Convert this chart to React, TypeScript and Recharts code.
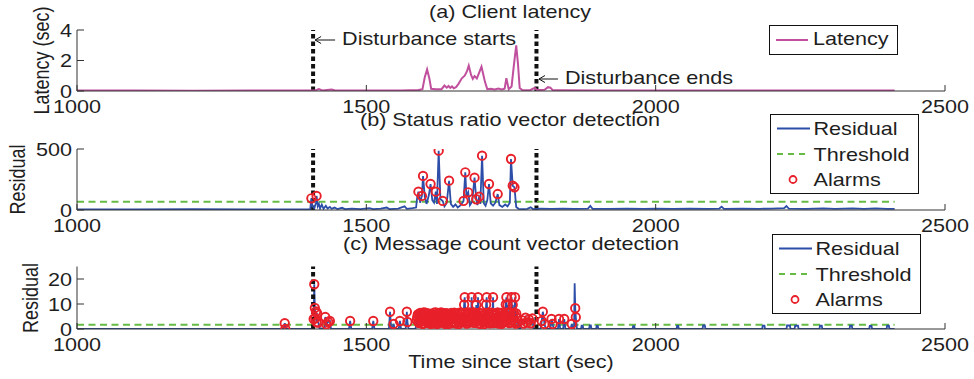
import React from 'react';
import { ComposedChart, Line, XAxis, YAxis, ReferenceLine, Legend } from 'recharts';

type Pt = [number, number];

// ---------- data ----------
const xTicks = [1000, 1500, 2000, 2500];
const latencyTicks = [0, 2, 4];
const statusTicks = [0, 500];
const messageTicks = [0, 10, 20];
const disturbanceStart = 1408;
const disturbanceEnd = 1794;
const statusThreshold = 68;
const messageThreshold = 1.7;
const seriesStart = 1000;
const seriesEnd = 2413;

const latencyPts: Pt[] = [
  [1000, 0.03], [1100, 0.03], [1200, 0.02], [1300, 0.03], [1400, 0.03], [1412, 0.04], [1418, 0.12],
  [1424, 0.04], [1440, 0.1], [1446, 0.03], [1500, 0.03], [1560, 0.04], [1590, 0.06], [1597, 0.12],
  [1601, 0.9], [1605, 1.42], [1609, 0.8], [1612, 0.15], [1620, 0.12], [1630, 0.12], [1635, 0.36],
  [1639, 0.22], [1642, 0.33], [1645, 0.2], [1648, 0.3], [1651, 0.18], [1655, 0.25], [1659, 0.45],
  [1665, 0.83], [1670, 1.0], [1674, 1.3], [1677, 1.66], [1681, 1.05], [1684, 0.8], [1687, 0.98],
  [1691, 0.82], [1695, 1.2], [1699, 1.6], [1702, 1.1], [1705, 0.6], [1709, 0.12], [1715, 0.15],
  [1722, 0.1], [1728, 0.16], [1734, 0.1], [1739, 0.15], [1742, 0.84], [1746, 0.12], [1751, 0.3],
  [1755, 1.7], [1759, 3.0], [1762, 1.8], [1765, 0.2], [1770, 0.05], [1783, 0.05], [1788, 0.15],
  [1791, 0.2], [1795, 0.06], [1808, 0.08], [1814, 0.25], [1818, 0.22], [1822, 0.06], [1840, 0.05],
  [1900, 0.04], [2000, 0.03], [2100, 0.03], [2200, 0.03], [2300, 0.03], [2413, 0.03],
];

const statusResidualPts: Pt[] = [
  [1000, 5], [1100, 5], [1200, 6], [1300, 5], [1403, 6], [1405, 96], [1407, 30], [1410, 15], [1413, 60],
  [1414, 115], [1416, 30], [1418, 50], [1420, 12], [1423, 45], [1426, 10], [1430, 35], [1433, 12],
  [1437, 25], [1440, 10], [1445, 20], [1450, 8], [1458, 18], [1463, 8], [1475, 12], [1490, 8],
  [1505, 15], [1512, 8], [1525, 12], [1535, 20], [1540, 8], [1555, 12], [1566, 30], [1570, 10],
  [1580, 15], [1586, 20], [1588, 110], [1590, 150], [1593, 60], [1596, 115], [1598, 279], [1601, 110],
  [1604, 50], [1608, 120], [1611, 213], [1614, 80], [1617, 60], [1620, 150], [1622, 50], [1625, 486],
  [1628, 90], [1632, 74], [1635, 30], [1639, 60], [1643, 240], [1646, 50], [1650, 25], [1654, 45],
  [1658, 20], [1662, 35], [1666, 60], [1668, 74], [1671, 309], [1673, 110], [1676, 145], [1679, 40],
  [1683, 70], [1687, 265], [1690, 88], [1692, 40], [1695, 109], [1697, 50], [1700, 445], [1703, 55],
  [1706, 35], [1709, 80], [1712, 213], [1715, 55], [1719, 35], [1723, 60], [1727, 131], [1730, 40],
  [1735, 25], [1740, 45], [1744, 30], [1748, 60], [1750, 418], [1753, 199], [1756, 186], [1759, 25],
  [1763, 10], [1770, 8], [1778, 10], [1784, 22], [1788, 8], [1800, 12], [1820, 10], [1840, 12],
  [1860, 9], [1883, 12], [1887, 33], [1891, 10], [1920, 10], [1950, 12], [1980, 9], [2000, 11],
  [2030, 10], [2060, 12], [2090, 10], [2110, 12], [2114, 28], [2118, 10], [2150, 12], [2180, 10],
  [2200, 12], [2222, 15], [2226, 33], [2230, 12], [2260, 10], [2290, 14], [2310, 10], [2340, 14],
  [2360, 10], [2380, 13], [2400, 9], [2413, 10],
];

const statusAlarmPts: Pt[] = [
  [1405, 96], [1414, 115], [1590, 150], [1596, 115], [1598, 279], [1611, 213], [1620, 150], [1625, 486],
  [1632, 74], [1643, 240], [1668, 74], [1671, 309], [1676, 145], [1687, 265], [1690, 88], [1695, 109],
  [1700, 445], [1712, 213], [1727, 131], [1750, 418], [1753, 199], [1756, 186],
];

const messageResidualBefore: Pt[] = [
  [1000, 0], [1357, 0], [1359, 2.3], [1361, 0], [1407, 0], [1409, 4.0], [1410, 17.9], [1411, 8.4],
  [1412, 4.3], [1413, 7.0], [1414, 2.7], [1415, 6.3], [1417, 2.6], [1419, 0.3], [1428, 0], [1429, 4.8],
  [1431, 1.9], [1434, 2.8], [1437, 3.2], [1439, 0], [1470, 0], [1472, 3.2], [1474, 0], [1510, 0],
  [1512, 3.2], [1514, 0], [1539, 0], [1541, 6.9], [1543, 0], [1545, 0], [1547, 2.0], [1549, 0],
  [1556, 0], [1558, 3.2], [1560, 0], [1568, 0], [1570, 6.9], [1571, 2.8], [1573, 0], [1585, 0],
];

const messageResidualBurstA: Pt[] = [
  [1587, 3.5], [1589, 5.8], [1591, 2.4], [1593, 6.4], [1595, 4.1], [1597, 2.2], [1599, 6.6], [1601, 3.8],
  [1603, 5.2], [1605, 2.6], [1607, 6.2], [1609, 4.6], [1611, 2.1], [1613, 5.5], [1615, 3.2], [1617, 6.5],
  [1619, 2.8], [1621, 4.9], [1623, 6.1], [1625, 2.3], [1627, 4.2], [1629, 6.6], [1631, 3.0], [1633, 5.4],
  [1635, 2.5], [1637, 6.3], [1639, 4.4], [1641, 2.0], [1643, 5.9], [1645, 3.6], [1647, 6.4], [1649, 2.7],
  [1651, 4.8], [1653, 6.0], [1655, 2.2], [1657, 5.1], [1659, 3.4], [1661, 6.5], [1663, 2.9], [1665, 4.5],
  [1667, 6.2], [1669, 9.7], [1670, 12.7], [1672, 3.1], [1674, 5.6], [1676, 2.4], [1678, 6.6], [1680, 4.0],
  [1682, 12.7], [1684, 2.6], [1686, 5.3], [1688, 6.4], [1690, 9.6], [1692, 3.3], [1693, 12.7], [1695, 5.0],
  [1697, 2.1], [1699, 6.1], [1701, 4.3], [1703, 2.8], [1705, 5.7], [1707, 9.7], [1708, 12.7], [1710, 3.6],
  [1712, 6.5], [1714, 2.3], [1716, 4.7], [1718, 6.0], [1719, 12.7], [1721, 2.9], [1723, 5.5], [1725, 3.8],
  [1727, 6.6], [1729, 2.2], [1731, 4.9], [1733, 6.3], [1735, 2.5], [1737, 5.2], [1739, 3.5], [1741, 9.8],
  [1742, 12.7], [1744, 9.6], [1746, 4.1], [1748, 6.4], [1750, 2.7], [1751, 12.7], [1753, 9.7], [1754, 5.8],
  [1756, 3.0], [1757, 12.7], [1759, 6.2], [1761, 2.4],
];

const messageResidualBurstB: Pt[] = [
  [1588, 4.8], [1590, 2.9], [1592, 5.9], [1594, 3.3], [1596, 6.3], [1598, 2.1], [1600, 4.6], [1602, 6.5],
  [1604, 3.0], [1606, 5.1], [1608, 2.4], [1610, 6.0], [1612, 3.9], [1614, 2.2], [1616, 5.6], [1618, 4.3],
  [1620, 6.6], [1622, 2.0], [1624, 3.7], [1626, 5.8], [1628, 2.7], [1630, 4.9], [1632, 6.4], [1634, 3.5],
  [1636, 2.1], [1638, 5.3], [1640, 6.2], [1642, 3.1], [1644, 4.6], [1646, 2.3], [1648, 5.7], [1650, 3.9],
  [1652, 6.5], [1654, 2.6], [1656, 4.4], [1658, 6.1], [1660, 2.0], [1662, 3.8], [1664, 5.9], [1666, 2.8],
  [1668, 4.7], [1671, 6.4], [1673, 2.2], [1675, 4.2], [1677, 6.0], [1679, 2.9], [1681, 5.4], [1683, 3.4],
  [1685, 6.6], [1687, 2.5], [1689, 4.6], [1691, 5.9], [1694, 2.3], [1696, 4.0], [1698, 6.3], [1700, 3.2],
  [1702, 5.5], [1704, 2.0], [1706, 4.4], [1709, 6.2], [1711, 2.7], [1713, 4.9], [1715, 3.3], [1717, 6.5],
  [1720, 2.4], [1722, 4.1], [1724, 6.1], [1726, 2.6], [1728, 5.0], [1730, 3.7], [1732, 6.4], [1734, 2.1],
  [1736, 4.5], [1738, 5.9], [1740, 2.8], [1743, 4.3], [1745, 6.2], [1747, 2.4], [1749, 5.1], [1752, 3.4],
  [1755, 6.5], [1758, 2.2], [1760, 4.6],
];

const messageResidualAfter: Pt[] = [
  [1763, 0.5], [1766, 0], [1769, 3.5], [1772, 2.2], [1775, 4.5], [1778, 2.6], [1781, 3.8], [1784, 2.3],
  [1787, 4.2], [1789, 0], [1801, 0], [1803, 3.2], [1805, 6.9], [1808, 2.0], [1810, 0], [1818, 0],
  [1820, 4.0], [1822, 2.0], [1824, 0], [1831, 0], [1833, 4.0], [1835, 0], [1840, 0], [1842, 4.0],
  [1844, 0], [1853, 0], [1855, 2.0], [1857, 0], [1859, 0], [1860, 18.3], [1861, 8.3], [1862, 4.7],
  [1864, 0], [1871, 0], [1872, 1.3], [1874, 1.3], [1875, 0], [1885, 0], [1886, 1.4], [1888, 1.4],
  [1889, 0], [1897, 0], [1898, 1.2], [1900, 1.2], [1901, 0], [1960, 0], [1961, 1.1], [1963, 1.1],
  [1964, 0], [2036, 0], [2037, 1.2], [2039, 1.2], [2040, 0], [2081, 0], [2082, 1.4], [2085, 1.4],
  [2086, 0], [2184, 0], [2185, 1.3], [2188, 1.3], [2189, 0], [2226, 0], [2227, 1.4], [2232, 1.4],
  [2233, 0], [2240, 0], [2241, 1.3], [2246, 1.3], [2247, 0], [2283, 0], [2284, 1.3], [2287, 1.3],
  [2288, 0], [2335, 0], [2336, 1.3], [2339, 1.3], [2340, 0], [2369, 0], [2370, 1.2], [2373, 1.2],
  [2374, 0], [2399, 0], [2400, 1.3], [2403, 1.3], [2404, 0], [2413, 0],
];

const messageAlarmSparse: Pt[] = [
  [1359, 2.3], [1360, 0], [1409, 4.0], [1410, 17.9], [1411, 8.4], [1412, 4.3], [1413, 7.0], [1414, 2.7],
  [1415, 6.3], [1417, 2.6], [1429, 4.8], [1431, 1.9], [1434, 2.8], [1437, 3.2], [1472, 3.2], [1512, 3.2],
  [1541, 6.9], [1547, 2.0], [1558, 3.2], [1570, 6.9], [1571, 2.8], [1769, 3.5], [1772, 2.2], [1775, 4.5],
  [1778, 2.6], [1781, 3.8], [1784, 2.3], [1787, 4.2], [1803, 3.2], [1805, 6.9], [1808, 2.0], [1820, 4.0],
  [1822, 2.0], [1833, 4.0], [1842, 4.0], [1855, 2.0], [1861, 8.3], [1862, 4.7],
];

// ---------- derived tables ----------
const toRows = (pts: Pt[]) => pts.map(([t, v]) => ({ t, v }));
const byTime = (a: Pt, b: Pt) => a[0] - b[0];
const burst: Pt[] = [...messageResidualBurstA, ...messageResidualBurstB].sort(byTime);
const latencyData = toRows(latencyPts);
const statusResidualData = toRows(statusResidualPts);
const statusAlarmData = toRows(statusAlarmPts);
const statusThresholdData = toRows([[seriesStart, statusThreshold], [seriesEnd, statusThreshold]]);
const messageResidualData = toRows([...messageResidualBefore, ...burst, ...messageResidualAfter]);
const messageAlarmData = toRows([...messageAlarmSparse, ...burst]);
const messageThresholdData = toRows([[seriesStart, messageThreshold], [seriesEnd, messageThreshold]]);

// ---------- style ----------
const W = 974;
const H = 379;
const PLOT_LEFT = 77;
const PLOT_RIGHT = 945;
const Y_AXIS_W = 40;
const X_AXIS_H = 30;
const FONT = '"Liberation Sans", Arial, Helvetica, sans-serif';
const TEXT = '#1e1e1e';
const AXIS = '#333333';
const MAGENTA = '#C0509E';
const BLUE = '#2C4DA8';
const GREEN = '#66BB44';
const RED = '#E8202A';
const BLACK = '#111111';

function SText({ x, y, anchor = 'start', rotate = false, children }: any) {
  return (
    <g transform={`translate(${x},${y}) scale(1.2,1)${rotate ? ' rotate(-90)' : ''}`}>
      <text x={0} y={0} textAnchor={anchor} fontFamily={FONT} fontSize={18} fill={TEXT}>
        {children}
      </text>
    </g>
  );
}

function XTick(props: any) {
  const { x, y, payload } = props;
  return (
    <g>
      <line x1={x} x2={x} y1={y} y2={y - 6} stroke={AXIS} strokeWidth={1} />
      <SText x={x} y={y + 22} anchor="middle">{payload.value}</SText>
    </g>
  );
}

function YTick(props: any) {
  const { x, y, payload } = props;
  return (
    <g>
      <line x1={x} x2={x + 7} y1={y} y2={y} stroke={AXIS} strokeWidth={1} />
      <SText x={x - 5} y={y + 6.5} anchor="end">{payload.value}</SText>
    </g>
  );
}

function Arrow({ x, y, len }: any) {
  return (
    <g stroke={BLACK} strokeWidth={1} fill="none">
      <line x1={x} y1={y} x2={x + len} y2={y} />
      <polyline points={`${x + 6},${y - 3.5} ${x},${y} ${x + 6},${y + 3.5}`} />
    </g>
  );
}

const startLabel = (props: any) => {
  const { x, y } = props.viewBox;
  return (
    <g>
      <Arrow x={x + 2} y={y + 10} len={20} />
      <SText x={x + 29} y={y + 15}>Disturbance starts</SText>
    </g>
  );
};

const endLabel = (props: any) => {
  const { x, y } = props.viewBox;
  return (
    <g>
      <Arrow x={x + 2.5} y={y + 49} len={19} />
      <SText x={x + 28.5} y={y + 53.5}>Disturbance ends</SText>
    </g>
  );
};

function LegendA() {
  return (
    <svg width={129} height={30} style={{ display: 'block' }}>
      <rect x={0.5} y={0.5} width={128} height={29} fill="#fff" stroke={BLACK} strokeWidth={1} />
      <line x1={7} x2={39} y1={15} y2={15} stroke={MAGENTA} strokeWidth={2} />
      <SText x={44} y={20}>Latency</SText>
    </svg>
  );
}

function LegendDetect() {
  const rows = [14.5, 40, 65.5];
  return (
    <svg width={149} height={80} style={{ display: 'block' }}>
      <rect x={0.5} y={0.5} width={148} height={79} fill="#fff" stroke={BLACK} strokeWidth={1} />
      <line x1={7} x2={40} y1={rows[0]} y2={rows[0]} stroke={BLUE} strokeWidth={2} />
      <SText x={43.5} y={rows[0] + 6.5}>Residual</SText>
      <line x1={7} x2={40} y1={rows[1]} y2={rows[1]} stroke={GREEN} strokeWidth={2} strokeDasharray="6 5" />
      <SText x={43.5} y={rows[1] + 6.5}>Threshold</SText>
      <circle cx={23} cy={rows[2]} r={3.5} fill="none" stroke={RED} strokeWidth={1.8} />
      <SText x={43.5} y={rows[2] + 6.5}>Alarms</SText>
    </svg>
  );
}

function Panel({ top, bottom, domain, ticks, children }: any) {
  return (
    <div style={{ position: 'absolute', left: 0, top: 0, width: W, height: H }}>
      <ComposedChart
        width={W}
        height={H}
        margin={{ top, right: W - PLOT_RIGHT, bottom: H - bottom - X_AXIS_H, left: PLOT_LEFT - Y_AXIS_W }}
      >
        <XAxis
          type="number"
          dataKey="t"
          domain={[1000, 2500]}
          ticks={xTicks}
          interval={0}
          allowDataOverflow
          height={X_AXIS_H}
          tickSize={0}
          tickMargin={0}
          tickLine={false}
          tick={XTick}
          stroke={AXIS}
        />
        <YAxis
          type="number"
          domain={domain}
          ticks={ticks}
          interval={0}
          allowDataOverflow
          width={Y_AXIS_W}
          tickSize={0}
          tickMargin={0}
          tickLine={false}
          tick={YTick}
          stroke={AXIS}
        />
        {children}
      </ComposedChart>
    </div>
  );
}

const vDash = { stroke: BLACK, strokeWidth: 4, strokeDasharray: '4.5 3' };
const alarmDot = { r: 4.2, stroke: RED, strokeWidth: 1.9, fill: 'none' };

export default function App() {
  return (
    <div style={{ position: 'absolute', left: 0, top: 0, width: W, height: H, background: '#fff', overflow: 'hidden' }}>
      {/* (a) latency */}
      <Panel top={30} bottom={91} domain={[0, 4]} ticks={latencyTicks}>
        <ReferenceLine x={disturbanceStart} {...vDash} label={startLabel} />
        <ReferenceLine x={disturbanceEnd} {...vDash} label={endLabel} />
        <Line data={latencyData} dataKey="v" stroke={MAGENTA} strokeWidth={2} dot={false} activeDot={false} isAnimationActive={false} />
        <Legend
          layout="vertical"
          align="center"
          verticalAlign="middle"
          content={() => <LegendA />}
          wrapperStyle={{ left: 769, top: 25, width: 129, height: 30 }}
        />
      </Panel>

      {/* (b) status ratio */}
      <Panel top={149} bottom={210} domain={[0, 500]} ticks={statusTicks}>
        <ReferenceLine x={disturbanceStart} {...vDash} />
        <ReferenceLine x={disturbanceEnd} {...vDash} />
        <Line data={statusThresholdData} dataKey="v" stroke={GREEN} strokeWidth={2} strokeDasharray="7 4.5" dot={false} activeDot={false} isAnimationActive={false} />
        <Line data={statusResidualData} dataKey="v" stroke={BLUE} strokeWidth={1.8} dot={false} activeDot={false} isAnimationActive={false} />
        <Line data={statusAlarmData} dataKey="v" stroke="none" dot={alarmDot} activeDot={false} isAnimationActive={false} />
        <Legend
          layout="vertical"
          align="center"
          verticalAlign="middle"
          content={() => <LegendDetect />}
          wrapperStyle={{ left: 770, top: 114, width: 149, height: 80 }}
        />
      </Panel>

      {/* (c) message count */}
      <Panel top={266.5} bottom={329} domain={[0, 25]} ticks={messageTicks}>
        <Line data={messageThresholdData} dataKey="v" stroke={GREEN} strokeWidth={2} strokeDasharray="7 4.5" dot={false} activeDot={false} isAnimationActive={false} />
        <Line data={messageResidualData} dataKey="v" stroke={BLUE} strokeWidth={1.8} dot={false} activeDot={false} isAnimationActive={false} />
        <ReferenceLine x={disturbanceStart} {...vDash} />
        <ReferenceLine x={disturbanceEnd} {...vDash} />
        <Line data={messageAlarmData} dataKey="v" stroke="none" dot={alarmDot} activeDot={false} isAnimationActive={false} />
        <Legend
          layout="vertical"
          align="center"
          verticalAlign="middle"
          content={() => <LegendDetect />}
          wrapperStyle={{ left: 772, top: 234, width: 149, height: 80 }}
        />
      </Panel>

      {/* titles and axis labels */}
      <svg width={W} height={H} style={{ position: 'absolute', left: 0, top: 0, pointerEvents: 'none' }}>
        <SText x={510} y={18} anchor="middle">(a) Client latency</SText>
        <SText x={510} y={126} anchor="middle">(b) Status ratio vector detection</SText>
        <SText x={511} y={249.5} anchor="middle">(c) Message count vector detection</SText>
        <SText x={511} y={368} anchor="middle">Time since start (sec)</SText>
        <SText x={48.5} y={60.5} anchor="middle" rotate>Latency (sec)</SText>
        <SText x={25} y={179.5} anchor="middle" rotate>Residual</SText>
        <SText x={38} y={298} anchor="middle" rotate>Residual</SText>
      </svg>
    </div>
  );
}
